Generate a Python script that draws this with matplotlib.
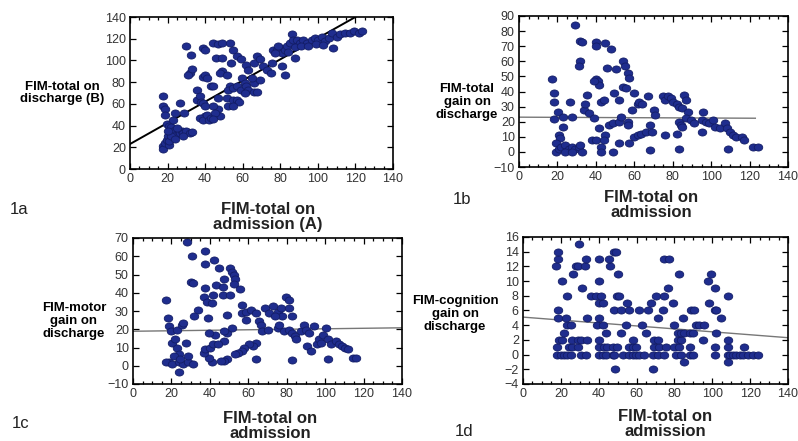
import numpy as np
import matplotlib
matplotlib.use('Agg')
import matplotlib.pyplot as plt
from matplotlib.markers import MarkerStyle
from matplotlib.transforms import Affine2D

plt.rcParams['font.family'] = ['Liberation Sans', 'DejaVu Sans']

W, H = 798, 441
DOT = '#1f2d8e'
EDGE = '#131d66'

# 1a: FIM-total admission vs discharge
a_x = [17.8, 17.8, 18.7, 18.7, 19.5, 20.5, 17.4, 17.8, 18.7, 19.5, 20.4, 21, 23, 22, 23, 24, 25, 26,
       26.7, 27.5, 28.4, 30, 32, 33, 26.7, 29, 24, 30, 32.5, 32, 33, 31, 21, 22, 24, 20, 25, 28,
       35.5, 35.5, 37, 38, 39, 40, 40, 37, 39, 41, 42, 43, 48, 47, 44, 39, 40, 41, 43, 44, 39, 40,
       44, 47, 49, 46, 49, 53, 55, 54, 49, 48, 51.5, 53, 52, 51.5, 52, 55, 57, 58, 55, 57, 59, 59.5,
       61, 62, 63, 61, 66, 66, 65, 67.5, 57, 59, 62, 63, 66, 67.5, 69, 71, 73, 69, 75, 75.5, 76, 78,
       80, 81, 82.6, 83.5, 85, 86, 87, 88, 81, 82.6, 89, 90.6, 92, 94, 97, 98.6, 100, 102, 104, 106,
       107.6, 108, 110, 112, 114.6, 117, 119, 122, 123.5, 77, 79, 84, 88, 91, 95, 99, 103, 45, 44,
       47, 55]
a_y = [67, 58, 55, 50, 41, 40, 21, 18, 24, 27, 30, 22, 33, 39, 45, 36, 32, 35,
       33, 35, 33, 35, 33, 34, 61, 52, 52, 113, 105, 88, 92, 87, 26, 30, 28, 35, 38, 30,
       73, 64, 67, 62, 61, 58, 48.5, 47, 45, 50, 45, 47, 48.5, 55, 58, 85, 87, 84, 76, 76, 111, 110,
       116, 115, 116, 102, 102, 116, 110, 98, 90, 88, 87, 76, 73, 65, 58, 64, 64, 62, 75, 76, 73, 84,
       79, 76, 73, 70, 71, 79, 84, 71, 104, 101, 96, 91, 98, 104, 101, 95, 91, 82, 88, 98, 110, 110,
       111, 107, 110, 113, 116, 124, 119, 102, 95, 87, 119, 116, 119, 116, 119, 121, 119, 122, 117.6, 121,
       125, 111, 122, 124, 125, 125, 127, 125, 127, 107, 113, 108, 112, 113, 113, 115, 114, 52, 46,
       65, 58]
a_line_x = [0, 120]
a_line_y = [23, 140]

# 1b: FIM-total gain
b_x = [29.4, 32, 33, 32, 31, 40, 40, 45, 48, 46, 50.7, 54, 55, 56.5, 57, 40, 41, 41.6, 39, 17,
       18, 18, 18, 20.3, 20.6, 21.5, 23, 23, 26.7, 27.6, 33.7, 34.6, 35.5, 36.4, 39, 41.6, 42.5, 44,
       45, 47, 49, 49.5, 52, 52, 53, 54, 55.6, 56.5, 56.5, 60, 59, 61.7, 62.6, 64, 60, 61.7, 63.5,
       66, 68, 69, 67, 70.5, 71, 68, 75, 76, 77.4, 79, 80, 82, 83.5, 86, 87, 85, 88, 83.5, 84.5, 87,
       89.6, 91, 96, 95, 95, 97.5, 99, 101, 102, 104.5, 107, 108, 110, 111.5, 113, 116, 117, 122,
       124.6, 109, 83.5, 76, 82, 85, 19, 19, 20.6, 22, 24, 26, 27.6, 29.4, 31, 33, 32, 24, 27.6,
       38, 40, 42.5, 42.5, 49, 52, 57.5, 44]
b_y = [83.8, 73.3, 73, 60, 56.7, 73, 70, 72, 68, 55.6, 55, 60, 56.7, 52, 49, 48, 46.7, 44.4, 46.7, 48.4,
       39, 33, 22, 26.7, 11, 9, 23.3, 16.7, 33.3, 23.3, 27.8, 32, 37.8, 25.6, 22.2, 15.6, 33.3, 34.4,
       11, 17.8, 19, 39, 34.4, 20, 23.3, 43, 42, 20, 17.8, 39, 27.8, 32, 33.3, 32, 10, 11, 12,
       13.3, 17.8, 13.3, 36.7, 27.8, 24.4, 1.1, 36.7, 34.4, 36.7, 35.6, 33.3, 32, 30, 37.8, 34.4, 29, 26.7, 20, 17.8, 22.2,
       21, 19, 26.7, 21, 13.3, 20, 19, 21, 16.7, 15.6, 19, 15.6, 13.3, 11, 10, 10, 7.8, 3.3,
       3.3, 2.2, 2.2, 11, 12, 16.7, 5.6, 0, 2.2, 3.3, 4.4, 2.2, 3.3, 2.2, 3.3, 0, 4.4, 0, 0,
       7.8, 7.8, 3.3, 0, 0, 5.6, 5.6, 8]
b_line_x = [0, 123]
b_line_y = [23, 22.3]

# 1c: FIM-motor gain
c_x = [28, 30.8, 37.3, 37.3, 42, 44.5, 30, 31, 50.7, 51.6, 52.4, 53.2, 52.4, 47.5, 43.4, 46.6, 37.6,
       41.7, 46.6, 50.7, 55.6, 36.8, 38.4, 40.9, 33.6, 32, 39, 49, 56.5, 56.5, 59, 61.4, 64, 59, 65.5,
       66.4, 68.8, 71, 72.8, 75.3, 77, 79.4, 81, 81, 82.7, 77.7, 73.7, 67, 70.4, 75.3, 76.1, 78.6, 81,
       82.7, 84.3, 85, 87.6, 89, 90, 91.7, 94, 90.7, 92.5, 95.8, 96.6, 99, 98, 100.7, 101.5, 103, 105.6,
       107, 109, 110.5, 112, 101.5, 114.6, 116, 82.7, 64, 64, 62.2, 60.6, 58, 56.5, 54.8, 53.2, 49,
       47.5, 45.8, 41, 39.3, 36.8, 37.6, 40, 41.7, 42.6, 39.3, 49, 51.6, 47.5, 47.5, 44.2, 17.2, 18,
       18.8, 19.6, 23, 25.4, 20.5, 22, 23, 23.7, 21.3, 18.8, 17.2, 20.5, 23.7, 26, 28.6, 31, 23.7, 27.8,
       28.6, 24.5, 26]
c_y = [67.7, 60.4, 62.8, 55.6, 57.7, 53.8, 46, 45.5, 53.8, 51.4, 49.6, 47.8, 45, 47.8, 44, 43.3, 42.4,
       38.8, 39, 38.8, 41.8, 37.8, 35, 34.3, 30.6, 27, 26, 28, 33.4, 29, 29.7, 30.6, 28.8, 25, 24.3,
       22.5, 31.6, 28.8, 32.5, 29.7, 31.6, 37.8, 36, 31.6, 27, 27, 27, 18.9, 19.8, 20.7, 22.5, 18.9, 19.8,
       18, 16.2, 14.4, 18.9, 22.5, 19.8, 18, 21.6, 10.8, 8, 11.7, 14.4, 17, 12.6, 20.7, 14.4, 11.7, 13.5,
       11.7, 10.8, 10, 9, 3.6, 4.5, 4.5, 3.2, 3.6, 12.6, 10.8, 11.7, 10, 8, 7.2, 6.3, 3.6,
       2.7, 2.7, 1.8, 4.5, 7.2, 9, 10, 11.7, 17, 18, 18, 20.7, 18.9, 13.5, 11.7, 36, 26,
       21.6, 18.9, 19.8, 22.5, 12.6, 14.4, 10, 6.3, 5.4, 1.8, 1.8, 0.9, 1.8, 0.9, 1.8, 0.9, -3.6, 12.6,
       5.4, 3.6, 23.4]
c_line_x = [0, 140]
c_line_y = [18.9, 20.8]

# 1d: FIM-cognition gain (integer scores)
d_x = [18.2, 20, 21.7, 23.5, 25.2, 30.5, 33.2, 40.2, 42, 43.8, 47.3, 48.2, 52.6, 56.2, 57.9, 59.7, 61.4,
       64.1, 68.5, 71.1, 74.7, 80.9, 83.5, 88, 89.8, 101.2, 108.2, 109.1, 110.9, 112.6, 114.4, 116.2,
       118.8, 121.5, 124.1,
       18.2, 24.4, 26.1, 28.8, 40.2, 42.8, 44.6, 47.3, 49.9, 56.2, 57.9, 59.7, 69.4, 72, 75.6, 80, 82.6,
       88, 101.2, 108.2, 117,
       19.1, 20.8, 26.1, 28.8, 30.5, 34, 40.2, 57.9, 69.4, 71.1, 81.8, 83.5, 95, 108.2,
       21.7, 43.8, 51.7, 65, 81.8, 83.5, 85.3, 88, 89.8, 102,
       23.5, 25.2, 39.3, 42, 54.3, 63.1, 79.9, 91.4, 93.2, 95.8,
       18.7, 22.6, 34, 40.2, 71.1, 84.4, 104.7,
       18.7, 48.2, 51.7, 56.2, 61.4, 65.8, 73.8, 88.7, 90.5, 101.2, 102,
       40.2, 42, 55.2, 67.6, 79, 98.5,
       23.5, 35.8, 38.4, 41.1, 49.9, 50.8, 70.2, 74.7, 108.2,
       31.4, 76.4, 101.2,
       20.5, 40.2, 97.6,
       26.5, 50.3, 82.6, 99.4,
       17.6, 27.9, 28.8, 32.8, 45.9,
       18.7, 33.2, 40.2, 45.2, 74.7, 77,
       18.7, 48.2, 49,
       29.7,
       85.3, 108.2,
       48.7, 68.5]
d_y = [0] * 35 + [1] * 21 + [2] * 14 + [3] * 10 + [4] * 10 + [5] * 7 + [6] * 11 + [7] * 6 + \
      [8] * 9 + [9] * 3 + [10] * 3 + [11] * 4 + [12] * 5 + [13] * 6 + [14] * 3 + [15] + [-1] * 2 + [-2] * 2
d_line_x = [0, 140]
d_line_y = [5.1, 2.3]


def box(l, t, r, b):
    return [l / W, 1 - b / H, (r - l) / W, (b - t) / H]


def ftext(x, y, s, **kw):
    fig.text(x / W, 1 - y / H, s, **kw)


fig = plt.figure(figsize=(W / 100, H / 100), dpi=100)
dot = MarkerStyle('o', transform=Affine2D().scale(1.2, 1.0))

panels = [
    (box(130, 17, 393, 169), a_x, a_y, a_line_x, a_line_y, (0, 140), np.arange(0, 141, 20), 'black', 1.4),
    (box(519, 16, 788, 167), b_x, b_y, b_line_x, b_line_y, (-10, 90), np.arange(-10, 91, 10), '#777777', 1.0),
    (box(133, 238, 402, 384), c_x, c_y, c_line_x, c_line_y, (-10, 70), np.arange(-10, 71, 10), '#777777', 1.0),
    (box(523, 237, 788, 384), d_x, d_y, d_line_x, d_line_y, (-4, 16), np.arange(-4, 17, 2), '#777777', 1.0),
]

for pos, xs, ys, lx, ly, ylim, yticks, lc, lw in panels:
    ax = fig.add_axes(pos)
    ax.plot(lx, ly, color=lc, lw=lw, zorder=1)
    ax.scatter(xs, ys, s=26, marker=dot, color=DOT, edgecolors=EDGE, linewidths=0.6, zorder=2)
    ax.set_xlim(0, 140)
    ax.set_ylim(*ylim)
    ax.set_xticks(np.arange(0, 141, 20))
    ax.set_yticks(yticks)
    ax.set_xticks(np.arange(0, 141, 5), minor=True)
    ax.tick_params(which='both', direction='in', top=True, right=True, labelsize=9,
                   labelcolor='#333333', width=0.9, pad=3)
    ax.tick_params(which='major', length=4)
    ax.tick_params(which='minor', length=2)
    for sp in ax.spines.values():
        sp.set_linewidth(1.2)

ylab = dict(fontsize=9.5, fontweight='bold', ha='center', va='center', linespacing=1.1)
xlab = dict(fontsize=12, fontweight='bold', ha='center', va='center', linespacing=1.0, color='#222222')
tag = dict(fontsize=12, ha='left', va='center', color='#222222')

ftext(62, 93, 'FIM-total on\ndischarge (B)', **ylab)
ftext(268, 217, 'FIM-total on\nadmission (A)', **xlab)
ftext(10, 210, '1a', **tag)

ftext(467, 102, 'FIM-total\ngain on\ndischarge', **ylab)
ftext(651, 205, 'FIM-total on\nadmission', **xlab)
ftext(453, 200, '1b', **tag)

ftext(74, 321, 'FIM-motor\ngain on\ndischarge', **ylab)
ftext(270, 426, 'FIM-total on\nadmission', **xlab)
ftext(12, 423, '1c', **tag)

ftext(455, 314, 'FIM-cognition\ngain on\ndischarge', **ylab)
ftext(665, 424, 'FIM-total on\nadmission', **xlab)
ftext(455, 432, '1d', **tag)

fig.savefig('out.png', dpi=100)
